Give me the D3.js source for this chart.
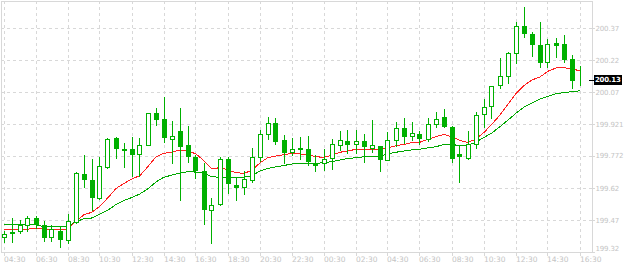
<!DOCTYPE html>
<html>
<head>
<meta charset="utf-8">
<script src="https://cdn.jsdelivr.net/npm/d3@7"></script>
<style>
  body { margin: 0; background: #fff; }
</style>
</head>
<body>
<div id="chart"></div>
<script>
// 30 minute candles, one x tick label every 4 bars
const tickLabels = ["04:30", "06:30", "08:30", "10:30", "12:30", "14:30", "16:30", "18:30", "20:30", "22:30",
   "00:30", "02:30", "04:30", "06:30", "08:30", "10:30", "12:30", "14:30", "16:30"]
const yTicks = [200.37, 200.22, 200.07, 199.921, 199.772, 199.62, 199.47, 199.32]
const lastPrice = 200.13

const open = [199.390, 199.417, 199.418, 199.449, 199.479, 199.447, 199.390, 199.422, 199.376, 199.460,
   199.686, 199.658, 199.573, 199.718, 199.854, 199.804, 199.804, 199.779, 199.822, 199.972,
   199.945, 199.853, 199.889, 199.823, 199.765, 199.701, 199.517, 199.545, 199.756, 199.634,
   199.625, 199.658, 199.765, 199.873, 199.925, 199.845, 199.789, 199.808, 199.803, 199.740,
   199.737, 199.761, 199.822, 199.843, 199.829, 199.842, 199.810, 199.817, 199.754, 199.845,
   199.901, 199.867, 199.875, 199.851, 199.920, 199.953, 199.906, 199.781, 199.761, 199.829,
   199.967, 200.004, 200.103, 200.145, 200.253, 200.379, 200.342, 200.290, 200.213, 200.300,
   200.295, 200.225, 200.129]
const high = [199.420, 199.479, 199.470, 199.488, 199.490, 199.467, 199.446, 199.441, 199.498, 199.698,
   199.775, 199.756, 199.765, 199.858, 199.861, 199.831, 199.859, 199.857, 199.973, 199.996,
   200.049, 199.934, 199.996, 199.913, 199.776, 199.740, 199.576, 199.768, 199.768, 199.674,
   199.700, 199.808, 199.893, 199.956, 199.948, 199.870, 199.854, 199.859, 199.865, 199.775,
   199.803, 199.851, 199.889, 199.893, 199.893, 199.873, 199.940, 199.818, 199.884, 199.931,
   199.948, 199.929, 199.890, 199.951, 199.976, 199.990, 199.914, 199.823, 199.889, 199.976,
   200.039, 200.098, 200.229, 200.260, 200.398, 200.470, 200.351, 200.398, 200.318, 200.323,
   200.337, 200.243, 200.192]
const low = [199.368, 199.370, 199.409, 199.422, 199.433, 199.373, 199.372, 199.343, 199.364, 199.457,
   199.625, 199.518, 199.568, 199.715, 199.761, 199.718, 199.679, 199.679, 199.821, 199.918,
   199.836, 199.737, 199.565, 199.743, 199.667, 199.453, 199.365, 199.544, 199.599, 199.565,
   199.592, 199.651, 199.749, 199.851, 199.828, 199.740, 199.776, 199.759, 199.729, 199.701,
   199.706, 199.709, 199.800, 199.787, 199.787, 199.745, 199.792, 199.703, 199.753, 199.817,
   199.832, 199.848, 199.829, 199.843, 199.906, 199.907, 199.745, 199.651, 199.756, 199.808,
   199.907, 199.951, 200.089, 200.114, 200.206, 200.331, 200.242, 200.187, 200.187, 200.237,
   200.211, 200.092, 200.106]
const close = [199.404, 199.409, 199.449, 199.479, 199.451, 199.393, 199.427, 199.381, 199.465, 199.690,
   199.662, 199.577, 199.723, 199.850, 199.811, 199.800, 199.782, 199.823, 199.972, 199.946,
   199.862, 199.864, 199.818, 199.773, 199.706, 199.524, 199.540, 199.756, 199.643, 199.626,
   199.662, 199.765, 199.873, 199.925, 199.843, 199.792, 199.806, 199.804, 199.749, 199.729,
   199.759, 199.826, 199.845, 199.829, 199.842, 199.820, 199.822, 199.759, 199.845, 199.901,
   199.867, 199.878, 199.857, 199.920, 199.943, 199.911, 199.761, 199.770, 199.826, 199.962,
   200.000, 200.098, 200.145, 200.253, 200.379, 200.347, 200.298, 200.213, 200.295, 200.293,
   200.225, 200.129, 200.130]

// moving averages
const maFast = [199.425, 199.425, 199.426, 199.429, 199.431, 199.429, 199.429, 199.429, 199.429, 199.467,
   199.496, 199.508, 199.537, 199.576, 199.619, 199.643, 199.664, 199.680, 199.722, 199.768,
   199.784, 199.790, 199.800, 199.795, 199.781, 199.749, 199.711, 199.717, 199.706, 199.694,
   199.689, 199.706, 199.739, 199.764, 199.771, 199.778, 199.783, 199.781, 199.776, 199.768,
   199.765, 199.776, 199.789, 199.795, 199.803, 199.804, 199.804, 199.800, 199.810, 199.820,
   199.826, 199.834, 199.836, 199.850, 199.862, 199.873, 199.861, 199.844, 199.835, 199.851,
   199.882, 199.921, 199.964, 200.015, 200.065, 200.102, 200.128, 200.142, 200.169, 200.184,
   200.186, 200.179, 200.171]
const maSlow = [199.450, 199.448, 199.448, 199.448, 199.448, 199.441, 199.440, 199.440, 199.443, 199.464,
   199.477, 199.481, 199.499, 199.518, 199.544, 199.563, 199.577, 199.594, 199.618, 199.650,
   199.672, 199.682, 199.692, 199.698, 199.696, 199.690, 199.674, 199.672, 199.672, 199.671,
   199.672, 199.680, 199.701, 199.713, 199.721, 199.727, 199.734, 199.737, 199.737, 199.737,
   199.740, 199.745, 199.753, 199.760, 199.763, 199.768, 199.768, 199.771, 199.781, 199.789,
   199.795, 199.800, 199.803, 199.810, 199.815, 199.825, 199.826, 199.819, 199.821, 199.837,
   199.858, 199.880, 199.909, 199.940, 199.972, 200.001, 200.020, 200.038, 200.051, 200.063,
   200.069, 200.073, 200.077]

width = 624
height = 266
margin = ({ top: 1, right: 32, bottom: 13, left: 1 })
const plotRight = width - margin.right   // 592
const plotBottom = height - margin.bottom // 253

const green = "#00b000"
const gridColor = "#d8d8d8"
const textColor = "#c4c4c4"
const font = "DejaVu Sans, sans-serif"

x = d3.scaleLinear()
   .domain([0, open.length - 1])
   .range([4, 580])

y = d3.scaleLinear()
   .domain([199.32, 200.37])
   .range([252.3, 28.3])

const px = v => Math.floor(v) + 0.5
const py = v => Math.round(v) + 0.5

const svg = d3.create("svg")
   .attr("width", width)
   .attr("height", height)
   .attr("viewBox", [0, 0, width, height])
   .style("display", "block")
   .style("background", "#fff");

// grid
const grid = svg.append("g")
   .attr("stroke", gridColor)
   .attr("stroke-dasharray", "3,3")
   .attr("shape-rendering", "crispEdges");

grid.selectAll("line.v")
   .data(tickLabels)
   .join("line")
   .attr("class", "v")
   .attr("x1", (d, k) => px(x(k * 4)))
   .attr("x2", (d, k) => px(x(k * 4)))
   .attr("y1", margin.top)
   .attr("y2", plotBottom + 3);

grid.selectAll("line.h")
   .data(yTicks.slice(0, -1))
   .join("line")
   .attr("class", "h")
   .attr("x1", margin.left)
   .attr("x2", plotRight)
   .attr("y1", d => py(y(d)))
   .attr("y2", d => py(y(d)));

// frame
svg.append("path")
   .attr("fill", "none")
   .attr("stroke", gridColor)
   .attr("shape-rendering", "crispEdges")
   .attr("d", `M1.5,1.5H${plotRight + 0.5}V${plotBottom - 0.5}H1.5Z`);

// moving averages
const line = d3.line()
   .x((d, i) => x(i))
   .y(d => y(d))

svg.append("path")
   .datum(maSlow)
   .attr("fill", "none")
   .attr("stroke", "#00a800")
   .attr("stroke-width", 1)
   .attr("shape-rendering", "crispEdges")
   .attr("d", line);

svg.append("path")
   .datum(maFast)
   .attr("fill", "none")
   .attr("stroke", "#ff2020")
   .attr("stroke-width", 1)
   .attr("shape-rendering", "crispEdges")
   .attr("d", line);

// candles
const candles = svg.append("g")
   .attr("shape-rendering", "crispEdges")
   .selectAll("g")
   .data(d3.range(open.length))
   .join("g");

candles.append("line")
   .attr("stroke", green)
   .attr("x1", i => px(x(i)))
   .attr("x2", i => px(x(i)))
   .attr("y1", i => Math.round(y(high[i])))
   .attr("y2", i => Math.round(y(low[i])) + 1);

candles.append("rect")
   .attr("stroke", green)
   .attr("fill", i => close[i] >= open[i] ? "#fff" : green)
   .attr("x", i => px(x(i)) - 2)
   .attr("width", 4)
   .attr("y", i => py(y(Math.max(open[i], close[i]))))
   .attr("height", i => Math.max(0, Math.round(y(Math.min(open[i], close[i]))) - Math.round(y(Math.max(open[i], close[i])))));

// y axis labels
const yAxis = svg.append("g")
   .attr("font-family", font)
   .attr("font-size", 7)
   .attr("letter-spacing", -0.15)
   .attr("fill", textColor);

yAxis.selectAll("line")
   .data(yTicks)
   .join("line")
   .attr("stroke", gridColor)
   .attr("shape-rendering", "crispEdges")
   .attr("x1", plotRight)
   .attr("x2", plotRight + 3)
   .attr("y1", d => Math.min(py(y(d)), plotBottom - 0.5))
   .attr("y2", d => Math.min(py(y(d)), plotBottom - 0.5));

yAxis.selectAll("text")
   .data(yTicks)
   .join("text")
   .attr("x", plotRight + 3.5)
   .attr("y", d => Math.min(y(d), 249))
   .attr("dy", "0.35em")
   .text(d => d);

// x axis labels
svg.append("g")
   .attr("font-family", font)
   .attr("font-size", 7.5)
   .attr("fill", textColor)
   .selectAll("text")
   .data(tickLabels)
   .join("text")
   .attr("x", (d, k) => Math.floor(x(k * 4)))
   .attr("y", 259.5)
   .attr("dy", "0.35em")
   .text(d => d);

// current price marker
const lp = py(y(lastPrice))
svg.append("line")
   .attr("stroke", "#000")
   .attr("shape-rendering", "crispEdges")
   .attr("x1", plotRight - 3)
   .attr("x2", plotRight + 2)
   .attr("y1", lp)
   .attr("y2", lp);

svg.append("rect")
   .attr("fill", "#000")
   .attr("x", plotRight + 2)
   .attr("y", lp - 5.5)
   .attr("width", 28)
   .attr("height", 10);

svg.append("text")
   .attr("font-family", font)
   .attr("font-size", 7)
   .attr("font-weight", "bold")
   .attr("letter-spacing", -0.25)
   .attr("fill", "#fff")
   .attr("x", plotRight + 3)
   .attr("y", lp - 0.5)
   .attr("dy", "0.35em")
   .text(lastPrice.toFixed(2));

d3.select("#chart").node().append(svg.node())
</script>
</body>
</html>
